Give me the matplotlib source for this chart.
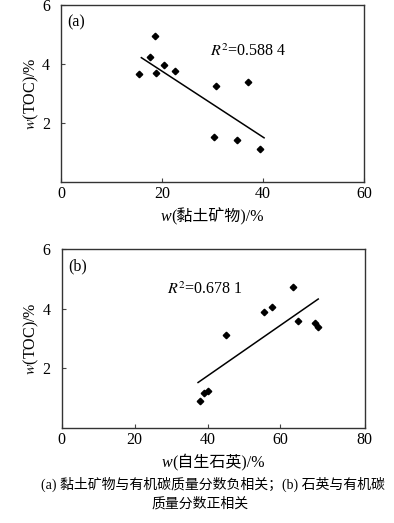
import matplotlib
matplotlib.use('Agg')
import matplotlib.pyplot as plt
from matplotlib.offsetbox import TextArea, HPacker, AnchoredOffsetbox

plt.rcParams['font.family'] = ['Liberation Serif', 'Noto Sans CJK SC']
plt.rcParams['mathtext.fontset'] = 'stix'
plt.rcParams['font.size'] = 11.5

# (a) clay minerals vs TOC
clay = [15.4, 17.6, 18.6, 18.8, 20.3, 22.5, 30.6, 37.0, 30.3, 34.9, 39.4]
toc_a = [3.67, 4.24, 4.96, 3.71, 3.96, 3.76, 3.26, 3.40, 1.53, 1.42, 1.13]
fit_a_x = [15.9, 40.2]
fit_a_y = [4.22, 1.50]

# (b) authigenic quartz vs TOC
quartz = [37.8, 38.9, 40.2, 45.0, 55.6, 57.8, 63.6, 64.9, 69.4, 70.4]
toc_b = [0.89, 1.16, 1.23, 3.10, 3.89, 4.06, 4.71, 3.57, 3.53, 3.39]
fit_b_x = [37.4, 70.4]
fit_b_y = [1.52, 4.32]

fig = plt.figure(figsize=(3.94, 5.23), dpi=100)
ax1 = fig.add_axes([0.155, 0.652, 0.769, 0.338])
ax2 = fig.add_axes([0.157, 0.182, 0.769, 0.342])


def style(ax, xmax, xticks, xlabels):
    ax.set_ylim(0, 6)
    ax.set_yticks([2, 4, 6])
    ax.set_xlim(0, xmax)
    ax.set_xticks(xticks)
    ax.set_xticklabels(xlabels)
    ax.tick_params(direction='in', length=3, width=0.8, color='#444')
    ax.tick_params(axis='y', pad=8)
    ax.tick_params(axis='x', pad=3)
    for s in ax.spines.values():
        s.set_linewidth(1.0)
        s.set_color('#333')
    ax.set_ylabel(r'$\mathit{w}$(TOC)/%', labelpad=1)


def xlabel(ax, name, y):
    # italic w followed by the Chinese name, aligned on the baseline
    w = TextArea('w', textprops=dict(style='italic', fontsize=11.5))
    rest = TextArea('(' + name + ')/%', textprops=dict(fontsize=11.5))
    box = HPacker(children=[w, rest], align='baseline', pad=0, sep=0)
    ab = AnchoredOffsetbox(loc='upper center', child=box, pad=0, frameon=False,
                           bbox_to_anchor=(0.5, y), bbox_transform=ax.transAxes,
                           borderpad=0)
    ax.add_artist(ab)


ax1.plot(clay, toc_a, 'D', color='black', ms=3.3)
ax1.plot(fit_a_x, fit_a_y, color='black', lw=1.1)
style(ax1, 60, [0, 20, 40, 60], ['0', '20', '40', '60'])
xlabel(ax1, '黏土矿物', -0.145)
ax1.text(0.02, 0.95, '(a)', transform=ax1.transAxes, va='top', ha='left')
ax1.text(29.5, 4.43, r'$R^2$=0.588 4', va='center', ha='left')

ax2.plot(quartz, toc_b, 'D', color='black', ms=3.3)
ax2.plot(fit_b_x, fit_b_y, color='black', lw=1.1)
style(ax2, 83.2, [0, 20, 40, 60, 83.2], ['0', '20', '40', '60', '80'])
xlabel(ax2, '自生石英', -0.145)
ax2.text(0.02, 0.95, '(b)', transform=ax2.transAxes, va='top', ha='left')
ax2.text(29.0, 4.63, r'$R^2$=0.678 1', va='center', ha='left')

fig.text(0.105, 0.074, '(a) 黏土矿物与有机碳质量分数负相关；(b) 石英与有机碳',
         ha='left', va='center', fontsize=10)
fig.text(0.508, 0.036, '质量分数正相关', ha='center', va='center', fontsize=10)

fig.savefig('out.png', dpi=100)
